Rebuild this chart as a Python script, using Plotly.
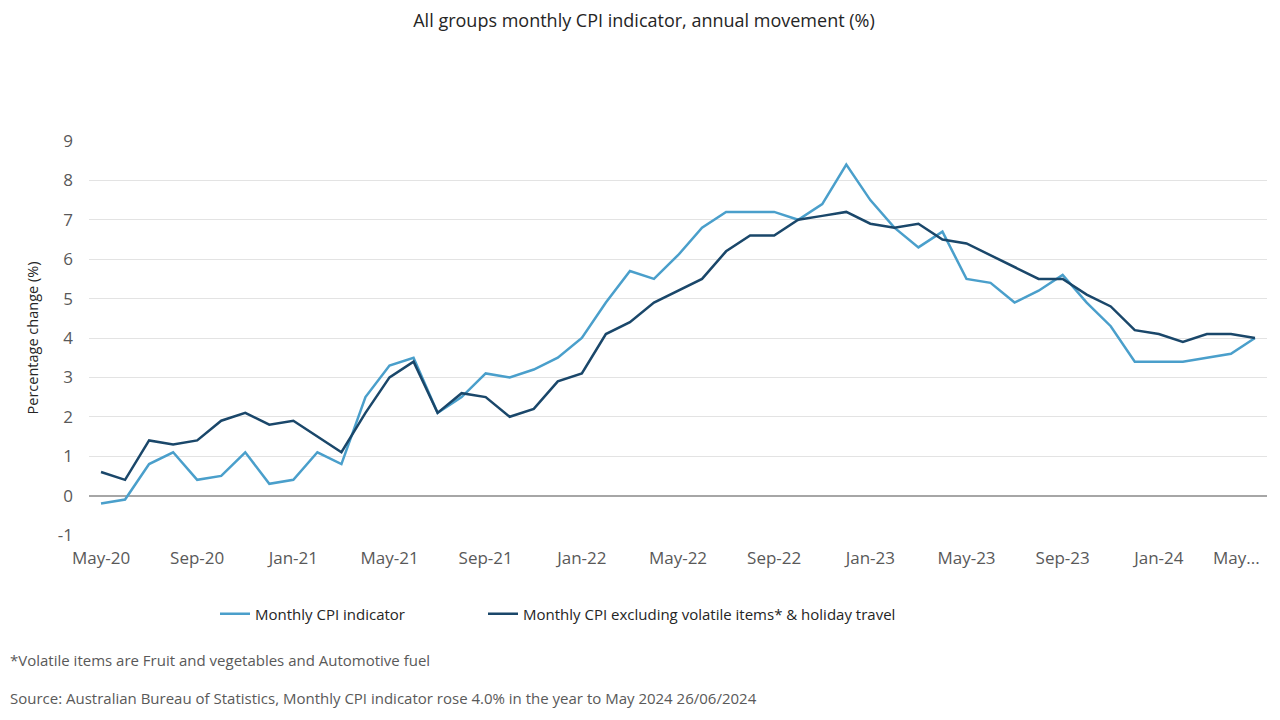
import plotly.graph_objects as go

months = ["May-20","Jun-20","Jul-20","Aug-20","Sep-20","Oct-20","Nov-20","Dec-20",
          "Jan-21","Feb-21","Mar-21","Apr-21","May-21","Jun-21","Jul-21","Aug-21",
          "Sep-21","Oct-21","Nov-21","Dec-21","Jan-22","Feb-22","Mar-22","Apr-22",
          "May-22","Jun-22","Jul-22","Aug-22","Sep-22","Oct-22","Nov-22","Dec-22",
          "Jan-23","Feb-23","Mar-23","Apr-23","May-23","Jun-23","Jul-23","Aug-23",
          "Sep-23","Oct-23","Nov-23","Dec-23","Jan-24","Feb-24","Mar-24","Apr-24","May-24"]

cpi_monthly = [-0.2, -0.1, 0.8, 1.1, 0.4, 0.5, 1.1, 0.3,
               0.4, 1.1, 0.8, 2.5, 3.3, 3.5, 2.1, 2.5,
               3.1, 3.0, 3.2, 3.5, 4.0, 4.9, 5.7, 5.5,
               6.1, 6.8, 7.2, 7.2, 7.2, 7.0, 7.4, 8.4,
               7.5, 6.8, 6.3, 6.7, 5.5, 5.4, 4.9, 5.2,
               5.6, 4.9, 4.3, 3.4, 3.4, 3.4, 3.5, 3.6, 4.0]

cpi_excl = [0.6, 0.4, 1.4, 1.3, 1.4, 1.9, 2.1, 1.8,
            1.9, 1.5, 1.1, 2.1, 3.0, 3.4, 2.1, 2.6,
            2.5, 2.0, 2.2, 2.9, 3.1, 4.1, 4.4, 4.9,
            5.2, 5.5, 6.2, 6.6, 6.6, 7.0, 7.1, 7.2,
            6.9, 6.8, 6.9, 6.5, 6.4, 6.1, 5.8, 5.5,
            5.5, 5.1, 4.8, 4.2, 4.1, 3.9, 4.1, 4.1, 4.0]

tick_months = ["May-20","Sep-20","Jan-21","May-21","Sep-21","Jan-22","May-22",
               "Sep-22","Jan-23","May-23","Sep-23","Jan-24"]
tick_text = ["May-20","Sep-20","Jan-21","May-21","Sep-21","Jan-22","May-22",
             "Sep-22","Jan-23","May-23","Sep-23","Jan-24"]
# last category label is truncated in the original chart
last_tick_month = "May-24"
last_tick_text = "May..."

y_ticks = [-1, 0, 1, 2, 3, 4, 5, 6, 7, 8, 9]
y_tick_text = ["-1", "0", "1", "2", "3", "4", "5", "6", "7", "8", "9"]

series_names = ["Monthly CPI indicator",
                "Monthly CPI excluding volatile items* &amp; holiday travel"]

FONT = "Segoe UI, Open Sans, Noto Sans, sans-serif"
LIGHT = "#4a9fcb"
DARK = "#1a476a"
TICK_COLOR = "#595959"

# page body has an 8px margin; figure is sized to fit the window
W, H = 1272, 712
L, R, T, B = 81, 13, 133, 185
PW = W - L - R
PH = H - T - B
PLOT_BOTTOM = H - B  # figure px


def py(fig_px):
    return (PLOT_BOTTOM - fig_px) / PH


def px(fig_px):
    return (fig_px - L) / PW


fig = go.Figure()
fig.add_trace(go.Scatter(x=months, y=cpi_monthly, mode="lines", name=series_names[0],
                         line=dict(color=LIGHT, width=2.5), legend="legend"))
fig.add_trace(go.Scatter(x=months, y=cpi_excl, mode="lines", name=series_names[1],
                         line=dict(color=DARK, width=2.5), legend="legend2"))

legend_common = dict(orientation="h", xanchor="left", yanchor="middle",
                     itemwidth=30, font=dict(size=15, color="#252525"),
                     bgcolor="rgba(0,0,0,0)")

fig.update_layout(
    width=W, height=H,
    paper_bgcolor="white", plot_bgcolor="white",
    margin=dict(l=L, r=R, t=T, b=B),
    font=dict(family=FONT, color=TICK_COLOR),
    title=dict(text="All groups monthly CPI indicator, annual movement (%)",
               x=0.5, xanchor="center", y=1 - 13/H, yanchor="middle",
               font=dict(size=18, color="#252525")),
    showlegend=True,
    legend=dict(x=px(207), y=py(606), **legend_common),
    legend2=dict(x=px(475), y=py(606), **legend_common),
    xaxis=dict(type="category", range=[-0.5, 48.5], automargin=False,
               tickmode="array", tickvals=tick_months, ticktext=tick_text,
               showgrid=False, showline=False, zeroline=False, ticks="",
               tickfont=dict(size=17, color=TICK_COLOR),
               ticklabelstandoff=11, tickangle=0),
    yaxis=dict(range=[-1, 9], tickmode="array", tickvals=y_ticks, ticktext=y_tick_text,
               automargin=False,
               showgrid=True, gridcolor="#e3e3e3", gridwidth=1,
               zeroline=True, zerolinecolor="#a6a6a6", zerolinewidth=2,
               showline=False, ticks="",
               tickfont=dict(size=17, color=TICK_COLOR),
               ticklabelstandoff=15,
               title=dict(text="Percentage change (%)", standoff=15,
                          font=dict(size=14.5, color="#252525"))),
    annotations=[
        dict(text=last_tick_text, xref="x", yref="paper", x=last_tick_month,
             y=py(549), xanchor="center", yanchor="middle", xshift=-18,
             showarrow=False, font=dict(size=17, color=TICK_COLOR)),
        dict(text="*Volatile items are Fruit and vegetables and Automotive fuel",
             xref="paper", yref="paper", x=px(0), y=py(652),
             xanchor="left", yanchor="middle", showarrow=False,
             font=dict(size=15, color=TICK_COLOR)),
        dict(text="Source: Australian Bureau of Statistics, Monthly CPI indicator rose 4.0% in the year to May 2024 26/06/2024",
             xref="paper", yref="paper", x=px(0), y=py(690),
             xanchor="left", yanchor="middle", showarrow=False,
             font=dict(size=15, color=TICK_COLOR)),
    ],
)

fig.write_html("out.html")
